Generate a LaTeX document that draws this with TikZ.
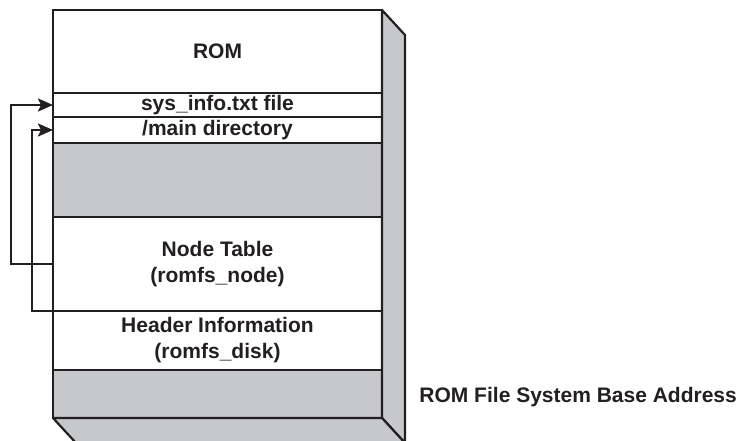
\documentclass[tikz,border=0pt]{standalone}
\usepackage{fontspec}
\setmainfont{Liberation Sans}
\usetikzlibrary{arrows.meta}
\usetikzlibrary{positioning}
\definecolor{ink}{RGB}{35,31,32}
\definecolor{romgray}{RGB}{199,200,203}

\begin{document}
\begin{tikzpicture}[x=1pt,y=-1pt,>={Stealth[length=15pt,width=13pt,inset=3pt]},
	line width=2.2pt,
	row/.style={draw=ink,rectangle,minimum width=329pt,inner sep=0pt,outer sep=0pt,
		text=ink,font=\fontsize{21}{26}\selectfont\bfseries,align=center},
	blank/.style={row,fill=romgray},
	face/.style={draw=ink,fill=romgray,line join=round}]
	\useasboundingbox (0,0) rectangle (740,441);
	\node[row, minimum height=83pt, anchor=north west] (rom) at (53,10) {ROM};
	\node[row, minimum height=24pt] (sys) [below=0pt of rom] {sys\_info.txt file};
	\node[row, minimum height=26pt] (maindir) [below=0pt of sys] {/main directory};
	\node[blank, minimum height=74pt] (free) [below=0pt of maindir] {};
	\node[row, minimum height=94pt] (table) [below=0pt of free] {Node Table\\(romfs\_node)};
	\node[row, minimum height=59pt] (header) [below=0pt of table] {Header Information\\(romfs\_disk)};
	\node[blank, minimum height=48pt] (base) [below=0pt of header] {};
	% side and bottom of the block
	\filldraw[face] (rom.north east) -- ++(23,25) -- ([shift={(23,25)}]base.south east)
		-- (base.south east) -- cycle;
	\filldraw[face] (base.south west) -- (base.south east) -- ++(23,25)
		-- ([shift={(23,25)}]base.south west) -- cycle;
	\node[text=ink,font=\fontsize{21}{26}\selectfont\bfseries,anchor=west] (addr)
		[right=33pt of base.east, yshift=-3pt] {ROM File System Base Address};
	\draw[->,draw=ink] (table.west) -- ++(-42,0) |- (sys.west);
	\draw[->,draw=ink] (table.south west) -- ++(-21,0) |- (maindir.west);
\end{tikzpicture}
\end{document}
